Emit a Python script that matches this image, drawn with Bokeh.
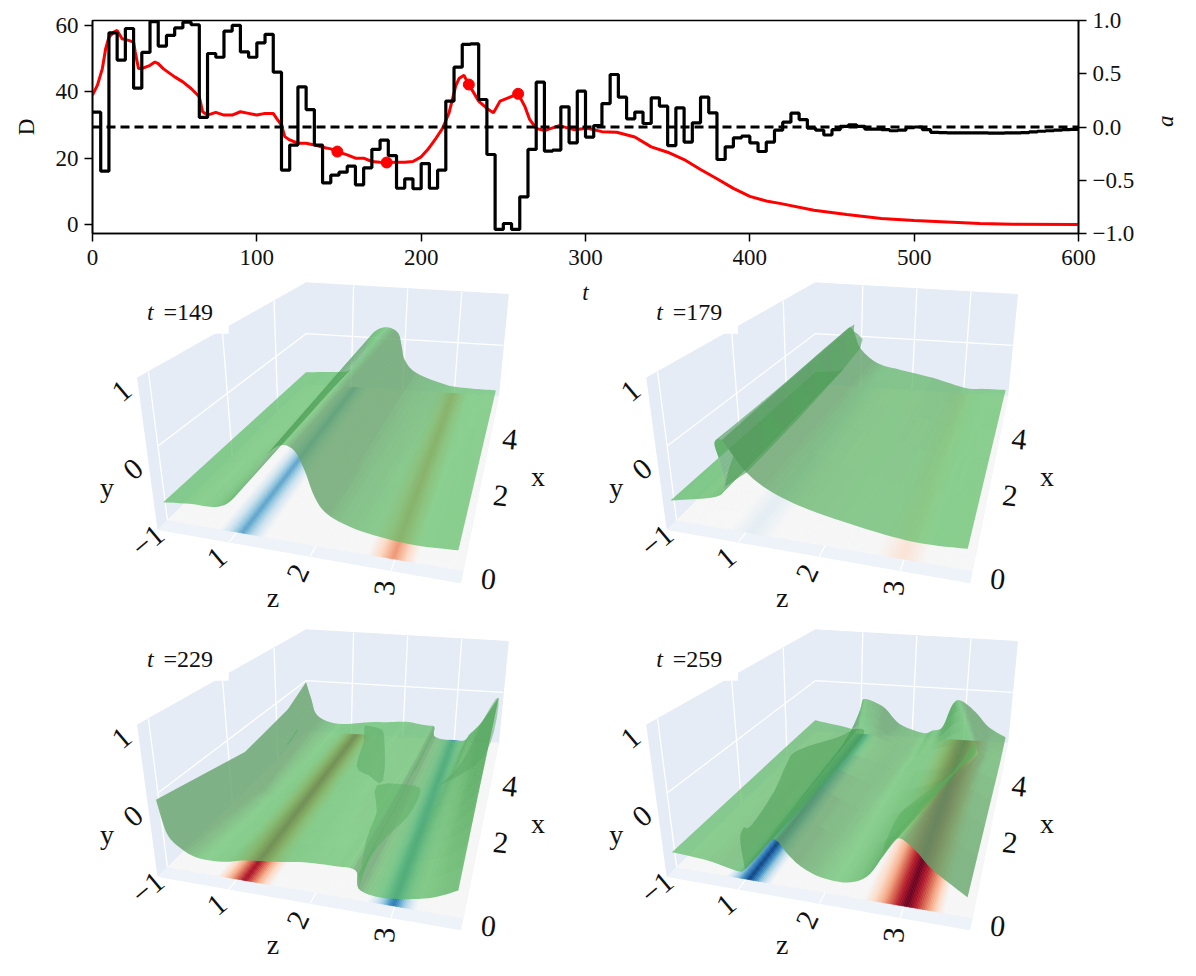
import math
import numpy as np
from bokeh.core.properties import value
from bokeh.embed import file_html
from bokeh.layouts import column
from bokeh.models import FixedTicker, LinearAxis, Range1d
from bokeh.palettes import RdBu11
from bokeh.plotting import figure
from bokeh.resources import INLINE

SERIF = "Liberation Serif"

# top chart: drag D (red) and action a (black, one value held for 5 time units)
d_t = [0, 3, 6, 8, 10, 13, 15, 18, 22, 25, 26, 28, 30, 35, 38, 40, 43, 50, 55, 60, 65, 67, 70, 75, 80, 85, 90, 95,
       100, 105, 110, 112, 115, 117, 120, 125, 130, 135, 140, 145, 149, 155, 160, 165, 170, 175, 179, 185, 190, 195,
       200, 204, 209, 213, 217, 221, 223, 226, 229, 235, 240, 244, 248, 253, 259, 263, 266, 270, 275, 284, 293, 301,
       310, 319, 330, 340, 350, 360, 370, 380, 390, 400, 410, 419, 439, 459, 480, 500, 520, 540, 560, 600]
d_values = [39, 42, 47, 53, 56.5, 58, 58.5, 56, 55.5, 55, 52, 47, 47, 48, 49, 48.5, 47, 44.5, 43, 41, 38.5, 34, 33,
            33.8, 33, 33, 34, 33.5, 33, 33.5, 33.5, 32, 30, 26.5, 25.5, 24.5, 24.5, 24, 23.3, 22.8, 22, 21, 20, 20,
            19, 18.8, 18.7, 18.8, 18.8, 19, 20.4, 22.6, 26, 29, 33.7, 41.7, 44, 45, 42.2, 37.2, 35, 33.7, 37.2, 38.2,
            39.4, 35.7, 31.7, 29, 28.3, 29.8, 28.6, 29, 28, 27.8, 26.4, 23.4, 21.8, 19.6, 16.6, 13.8, 10.9, 8.5, 7.1,
            6.3, 4.3, 3.0, 1.8, 1.2, 0.8, 0.3, 0.1, 0]
a_values = [.139, -.415, .884, .628, .925, .365, .70, .99, .76, .86, .93, .985, .96, .09, .69, .655, .90, .955, .705,
            .655, .79, .87, .515, -.405, -.17, .377, .164, -.17, -.525, -.452, -.424, -.368, -.543, -.383, -.21,
            -.124, -.268, -.575, -.487, -.58, -.343, -.575, -.405, .243, .562, .775, .78, .258, -.258, -.962, -.906,
            -.962, -.656, -.211, .421, -.227, -.217, .189, -.149, .336, -.095, .014, .22, .493, .28, .077, .14, .033,
            .274, .196, -.174, .18, -.142, .039, .28, .133, -.305, -.186, -.102, -.086, -.149, -.23, -.142, -.03,
            .045, .13, .07, -.01, -.03, -.075, -.025, .006, .02, .006, -.02, -.02, -.025, -.035, -.03, -.006, 0,
            -.025, -.05, -.052, -.055, -.055, -.055, -.055, -.055, -.058, -.058, -.055, -.055, -.052, -.045, -.04,
            -.035, -.03, -.025, -.022, -.02]
a_t = [i * 5 for i in range(len(a_values))]
snap_t = [149, 179, 229, 259]
snap_d = [22, 18.7, 42.2, 39.4]

# surface cross sections (z, y) read at a few depths x of each panel
x_149 = [0, 5.8]
z_149 = [[.23, .55, .87, 1.07, 1.28, 1.49, 1.67, 1.83, 1.95, 2.06, 2.21, 2.53, 2.93, 3.33, 3.79],
         [.12, .5, .91, 1.06, 1.22, 1.39, 1.64, 1.86, 1.94, 2.01, 2.24, 2.83, 3.21, 3.5, 3.80]]
y_149 = [[-.62, -.58, -.56, -.43, -.12, .22, .41, .37, .12, -.2, -.4, -.53, -.59, -.61, -.58],
         [-.76, -.73, -.69, -.53, -.31, .09, .22, .12, -.14, -.4, -.64, -.84, -.88, -.885, -.89]]

x_179 = [0, 5.8]
z_179 = [[.21, .76, .88, .86, .81, .90, 1.02, 1.16, 1.40, 1.79, 2.38, 2.97, 3.37, 3.79],
         [.12, .61, .73, .72, .70, .75, .85, .98, 1.30, 1.75, 2.39, 3.03, 3.4, 3.81]]
y_179 = [[-.6, -.45, -.29, 0, .27, .33, .14, -.05, -.23, -.38, -.5, -.58, -.59, -.56],
         [-.76, -.69, -.53, -.35, -.1, .15, .09, -.23, -.5, -.61, -.73, -.89, -.885, -.88]]

x_229 = [0, 1.99, 3.93, 5.8]
z_229 = [[.22, .29, .40, .62, .94, 1.22, 1.58, 1.93, 2.29, 2.55, 2.59, 2.81, 3.13, 3.49, 3.78],
         [.37, .5, .6, .8, 1.15, 1.46, 1.8, 2.1, 2.4, 2.57, 2.62, 2.98, 3.2, 3.5, 3.78],
         [.34, .42, .45, .76, 1.28, 1.6, 1.95, 2.2, 2.46, 2.59, 2.63, 3.08, 3.26, 3.5, 3.78],
         [.12, .22, .34, .73, 1.36, 1.7, 2.05, 2.3, 2.5, 2.6, 2.64, 3.15, 3.3, 3.5, 3.78]]
y_229 = [[.03, -.37, -.53, -.65, -.65, -.58, -.53, -.47, -.45, -.46, -.69, -.76, -.73, -.64, -.49],
         [-.146, -.55, -.7, -.75, -.7, -.65, -.6, -.58, -.6, -.61, -.83, -.88, -.79, -.62, -.3],
         [-.07, -.42, -.68, -.79, -.72, -.69, -.65, -.66, -.68, -.7, -.9, -.95, -.83, -.61, -.2],
         [-.03, -.35, -.67, -.81, -.74, -.72, -.69, -.72, -.74, -.76, -.96, -1.0, -.85, -.61, -.11]]

x_259 = [0, 4.35, 5.8]
z_259 = [[.22, .66, 1.0, 1.10, 1.27, 1.46, 1.63, 1.78, 2.02, 2.34, 2.58, 2.76, 2.92, 3.14, 3.35, 3.79],
         [.13, .57, .94, 1.0, 1.1, 1.3, 1.5, 1.75, 2.18, 2.39, 2.6, 3.0, 3.36, 3.45, 3.55, 3.81],
         [.12, .55, .93, .97, 1.01, 1.07, 1.43, 1.75, 2.21, 2.4, 2.58, 2.74, 2.89, 3.19, 3.47, 3.81]]
y_259 = [[-.66, -.69, -.76, -.72, -.51, -.25, -.42, -.55, -.65, -.66, -.53, -.23, .04, -.09, -.3, -.58],
         [-.76, -.83, -.88, -.78, -.73, -.72, -.7, -.74, -.87, -.85, -.82, -.8, -.73, -.75, -.8, -.86],
         [-.78, -.85, -.9, -.67, -.44, -.3, -.44, -.75, -.9, -.84, -.76, -.32, -.22, -.43, -.71, -.89]]

# overturned parts of the surface: (z, x, y, colour, alpha)
folds_149 = []
folds_179 = [
    ([.90, .75, .85, .98, 1.16, 1.02],
     [0, 5.8, 5.8, 5.8, 0, 0],
     [.33, .15, .09, -.23, -.05, .14], "#4f9f58", .6),
]
folds_229 = [
    ([2.59, 2.65, 2.61, 2.46, 2.97, 3.07, 3.0, 2.81, 2.67],
     [0, .05, .67, 1.27, 1.27, 1.06, .67, .38, .155],
     [-.69, -.07, -.07, -.03, .04, .04, -.07, -.21, -.36], "#5db066", .55),
    ([1.55, 1.83, 1.9, 2.26, 2.04, 1.69, 1.54],
     [4.35, 4.35, 4.35, 2.55, 2.55, 3.19, 4.35],
     [-.37, -.41, -.58, -.59, -.53, -.68, -.68], "#5aa864", .5),
    ([3.13, 3.4, 3.62, 3.78, 3.78, 3.67, 3.37],
     [2.55, 3.19, 4.8, 5.8, 5.08, 3.93, 3.19],
     [-.56, -.41, -.15, -.11, -.55, -.63, -.65], "#5aa864", .5),
]
folds_259 = [
    ([1.10, 1.04, 1.04, 1.10, 1.11, .95, .91, .86, .93, 1.27, 1.40, 1.46, 1.27],
     [0, .05, .155, .22, .86, 1.73, 2.26, 4.35, 5.8, 4.8, 1.73, 0, 0],
     [-.72, -.37, -.27, -.27, -.14, -.12, -.15, -.67, -.9, -.71, -.46, -.25, -.51], "#4f9f58", .55),
    ([2.77, 2.78, 2.74, 2.88, 3.11, 3.28, 3.36, 3.21, 3.06, 2.92],
     [0, 0, .86, 1.5, 3.19, 4.8, 4.35, 3.19, 1.5, 0],
     [-.19, -.05, -.19, -.26, -.63, -.71, -.73, -.55, -.26, .04], "#59b061", .55),
]

# forcing shown on the floor of each panel, z position and signed strength
floor_z_149 = [.12, .79, .93, 1.07, 1.21, 1.36, 2.66, 2.82, 2.98, 3.13, 3.27, 3.86]
floor_v_149 = [0, 0, -.25, -.55, -.25, 0, 0, .22, .45, .22, 0, 0]
floor_z_179 = [.12, .79, 1.07, 1.36, 2.66, 2.98, 3.27, 3.86]
floor_v_179 = [0, 0, -.1, 0, 0, .14, 0, 0]
floor_z_229 = [.12, .76, .92, 1.1, 1.28, 1.45, 2.66, 2.82, 2.98, 3.13, 3.27, 3.86]
floor_v_229 = [0, 0, .35, .85, .35, 0, 0, -.3, -.72, -.3, 0, 0]
floor_z_259 = [.12, .76, .9, 1.04, 1.18, 1.32, 2.5, 2.72, 2.9, 3.03, 3.16, 3.34, 3.5, 3.86]
floor_v_259 = [0, 0, -.4, -.95, -.4, 0, 0, .35, .75, 1.0, .75, .35, 0, 0]

labels = ["149", "179", "229", "259"]

Z_LO, Z_HI, X_MAX = .12, 3.86, 5.8
NEAR = {"ll": (205, 750), "lr": (1125, 910), "ul": (143, 295), "ur": (1177, 460)}
FAR = {"ll": (655, 315), "lr": (1240, 350), "ul": (655, 10), "ur": (1270, 45)}
ORIGINS = [(82, 3), (598, 3), (82, 350), (598, 350)]


def depth(x):
    return (169.4 * x / (1 + .159 * x)) / (169.4 * X_MAX / (1 + .159 * X_MAX))


def bilinear(c, s, t, k):
    low = c["ll"][k] + (c["lr"][k] - c["ll"][k]) * s
    high = c["ul"][k] + (c["ur"][k] - c["ul"][k]) * s
    return low + (high - low) * t


def project(z, x, y, origin):
    z, x, y = np.asarray(z, float), np.asarray(x, float), np.asarray(y, float)
    s = (z - Z_LO) / (Z_HI - Z_LO)
    t = (y + 1) / 2
    w = depth(x)
    u = bilinear(NEAR, s, t, 0) * (1 - w) + bilinear(FAR, s, t, 0) * w
    v = bilinear(NEAR, s, t, 1) * (1 - w) + bilinear(FAR, s, t, 1) * w
    return origin[0] + u / 3, origin[1] + v / 3


def smooth(values, n=6):
    # catmull-rom through the read values, only to round off the drawn outline
    p = np.asarray(values, float)
    p = np.concatenate([[p[0]], p, [p[-1]]])
    out = []
    for i in range(1, len(p) - 2):
        for f in np.linspace(0, 1, n, endpoint=False):
            out.append(.5 * (2 * p[i] + (p[i + 1] - p[i - 1]) * f
                             + (2 * p[i - 1] - 5 * p[i] + 4 * p[i + 1] - p[i + 2]) * f ** 2
                             + (3 * p[i] - p[i - 1] - 3 * p[i + 1] + p[i + 2]) * f ** 3))
    out.append(p[-2])
    return np.array(out)


def rdbu(v):
    # v from -1 (blue) to 1 (red)
    colors = RdBu11[::-1] if RdBu11[0].lower() == "#67001f" else RdBu11
    pos = (v + 1) / 2 * 10
    i = min(int(pos), 9)
    f = pos - i
    low, high = colors[i], colors[i + 1]
    rgb = [int(low[j:j + 2], 16) * (1 - f) + int(high[j:j + 2], 16) * f for j in (1, 3, 5)]
    return "#%02x%02x%02x" % tuple(int(c) for c in rgb)


top = figure(width=1180, height=294, x_range=(0, 600), y_range=(-2.7, 61.5), output_backend="svg",
             toolbar_location=None, min_border_left=92, min_border_right=102, min_border_top=20, min_border_bottom=2,
             x_axis_label="t", y_axis_label="D")
top.frame_width = 986
top.frame_height = 213
top.grid.visible = False
top.outline_line_color = "black"
top.outline_line_width = 1.6
top.extra_y_ranges = {"a": Range1d(-1, 1)}
right_axis = LinearAxis(y_range_name="a", axis_label="a")
top.add_layout(right_axis, "right")

top.xaxis.ticker = FixedTicker(ticks=[0, 100, 200, 300, 400, 500, 600])
top.yaxis[0].ticker = FixedTicker(ticks=[0, 20, 40, 60])
right_axis.ticker = FixedTicker(ticks=[-1, -.5, 0, .5, 1])
right_axis.major_label_overrides = {-1: "\u22121.0", -.5: "\u22120.5", 0: "0.0", .5: "0.5", 1: "1.0"}
for ax in [top.xaxis[0], top.yaxis[0], right_axis]:
    ax.major_tick_in = 0
    ax.major_tick_out = 8
    ax.minor_tick_in = 0
    ax.minor_tick_out = 0
    ax.major_tick_line_color = "black"
    ax.major_tick_line_width = 1.5
    ax.axis_line_color = "black"
    ax.axis_line_width = 1.6
    ax.major_label_text_font = SERIF
    ax.major_label_text_font_size = "23px"
    ax.major_label_text_color = "#111111"
    ax.axis_label_text_font = SERIF
    ax.axis_label_text_font_size = "23px"
    ax.axis_label_text_color = "#111111"
    ax.axis_label_text_font_style = "normal"
top.xaxis[0].axis_label_text_font_style = "italic"
right_axis.axis_label_text_font_style = "italic"
top.xaxis[0].axis_label_standoff = 12
top.yaxis[0].axis_label_standoff = 14
right_axis.axis_label_standoff = 28
right_axis.axis_label_orientation = math.pi / 2
top.yaxis[0].major_label_standoff = 6
right_axis.major_label_standoff = 6
top.xaxis[0].major_label_standoff = 8

top.line(d_t, d_values, line_color="#ff0000", line_width=3)
top.step(a_t, a_values, mode="after", y_range_name="a", line_color="black", line_width=3.2)
top.line([0, 600], [0, 0], y_range_name="a", line_color="black", line_width=3, line_dash="9 5")
top.scatter(snap_t, snap_d, size=11, color="#ff0000", marker="circle")

# the column lines this frame up with the top frame, so the range starts at the top frame's left edge
bottom = figure(width=1180, height=688, x_range=(84, 1070), y_range=(688, 0), output_backend="svg",
                toolbar_location=None, min_border=0, margin=(-31, 0, 0, 0),
                background_fill_color=None, border_fill_color=None, outline_line_color=None)
bottom.axis.visible = False
bottom.grid.visible = False

GREEN = "#63c06a"
panels = [
    (x_149, z_149, y_149, folds_149, floor_z_149, floor_v_149),
    (x_179, z_179, y_179, folds_179, floor_z_179, floor_v_179),
    (x_229, z_229, y_229, folds_229, floor_z_229, floor_v_229),
    (x_259, z_259, y_259, folds_259, floor_z_259, floor_v_259),
]

for label, origin, (xsec, zsec, ysec, folds, fz, fv) in zip(labels, ORIGINS, panels):
    # walls and floor
    xs, ys = project([Z_LO, Z_LO, Z_LO, Z_LO], [0, 0, X_MAX, X_MAX], [-1, 1, 1, -1], origin)
    bottom.patch(xs, ys, fill_color="#e5ecf6", line_color="#e5ecf6")
    xs, ys = project([Z_LO, Z_LO, Z_HI, Z_HI], [X_MAX] * 4, [-1, 1, 1, -1], origin)
    bottom.patch(xs, ys, fill_color="#e5ecf6", line_color="#e5ecf6")
    xs, ys = project([Z_LO, Z_HI, Z_HI, Z_LO], [0, 0, X_MAX, X_MAX], [-1] * 4, origin)
    bottom.patch(xs, ys, fill_color="#eef2f9", line_color="#eef2f9")

    # grid of the walls
    xs, ys = project([Z_LO, Z_LO, Z_HI], [.2, X_MAX, X_MAX], [0, 0, 0], origin)
    bottom.line(xs, ys, line_color="white", line_width=1.3)
    for xx in [.2, 2, 4]:
        xs, ys = project([Z_LO, Z_LO], [xx, xx], [-1, 1], origin)
        bottom.line(xs, ys, line_color="white", line_width=1.3)
    for zz in [1, 2, 3]:
        xs, ys = project([zz, zz], [X_MAX, X_MAX], [-1, 1], origin)
        bottom.line(xs, ys, line_color="white", line_width=1.3)
        xs, ys = project([zz, zz], [0, .2], [-1, -1], origin)
        bottom.line(xs, ys, line_color="white", line_width=1.3)

    # floor colours
    grid = np.linspace(Z_LO, Z_HI, 181)
    vals = np.interp(grid, fz, fv)
    strip_x, strip_y, strip_c = [], [], []
    for i in range(len(grid) - 1):
        xs, ys = project([grid[i], grid[i + 1], grid[i + 1], grid[i]], [.2, .2, X_MAX, X_MAX], [-1] * 4, origin)
        strip_x.append(list(xs))
        strip_y.append(list(ys))
        strip_c.append(rdbu(.5 * (vals[i] + vals[i + 1])))
    bottom.patches(strip_x, strip_y, fill_color=strip_c, line_color=strip_c, line_width=.6)

    # surface outline, then shade by slope on top of it
    zs = [smooth(a) for a in zsec]
    ys_ = [smooth(a) for a in ysec]
    fx, fy = project(zs[0], np.full(len(zs[0]), xsec[0]), ys_[0], origin)
    bx, by = project(zs[-1], np.full(len(zs[-1]), xsec[-1]), ys_[-1], origin)
    rx, ry = project([a[-1] for a in zs[1:-1]], xsec[1:-1], [a[-1] for a in ys_[1:-1]], origin)
    lx, ly = project([a[0] for a in zs[1:-1]], xsec[1:-1], [a[0] for a in ys_[1:-1]], origin)
    bottom.patch(list(fx) + list(rx) + list(bx[::-1]) + list(lx[::-1]),
                 list(fy) + list(ry) + list(by[::-1]) + list(ly[::-1]),
                 fill_color=GREEN, fill_alpha=.72, line_color=None)
    dark_x, dark_y, dark_c, dark_a = [], [], [], []
    for k in range(len(xsec) - 1):
        for a, b in zip(np.linspace(0, 1, 6)[:-1], np.linspace(0, 1, 6)[1:]):
            za, ya = zs[k] + (zs[k + 1] - zs[k]) * a, ys_[k] + (ys_[k + 1] - ys_[k]) * a
            zc, yc = zs[k] + (zs[k + 1] - zs[k]) * b, ys_[k] + (ys_[k + 1] - ys_[k]) * b
            xa = xsec[k] + (xsec[k + 1] - xsec[k]) * a
            xc = xsec[k] + (xsec[k + 1] - xsec[k]) * b
            for i in range(len(za) - 1):
                dz = .5 * (za[i + 1] - za[i] + zc[i + 1] - zc[i])
                dy = .5 * (ya[i + 1] - ya[i] + yc[i + 1] - yc[i])
                slope = dy / max(abs(dz), .01)
                xs, ys = project([za[i], za[i + 1], zc[i + 1], zc[i]], [xa, xa, xc, xc],
                                 [ya[i], ya[i + 1], yc[i + 1], yc[i]], origin)
                dark_x.append(list(xs))
                dark_y.append(list(ys))
                if dz < 0 or slope > 0:
                    dark_c.append("#4f9f58")
                    dark_a.append(float(min(.62, .45 * abs(slope))))
                else:
                    dark_c.append("#707a70")
                    dark_a.append(float(min(.33, .5 * abs(slope))))
    bottom.patches(dark_x, dark_y, fill_color=dark_c, fill_alpha=dark_a, line_color=None)

    # overturned parts
    for fold_z, fold_x, fold_y, fold_c, fold_a in folds:
        xs, ys = project(smooth(fold_z, 3), smooth(fold_x, 3), smooth(fold_y, 3), origin)
        bottom.patch(list(xs), list(ys), fill_color=fold_c, fill_alpha=fold_a, line_color=None)

    # white box behind the time label
    ox, oy = origin
    bottom.quad(left=ox + 150 / 3, right=ox + 420 / 3, top=oy + 30 / 3, bottom=oy + 163 / 3, fill_color="white",
                line_color=None)
    bottom.text([ox + 172 / 3], [oy + 97 / 3], text=["t"], text_font=value(SERIF), text_font_style="italic",
                text_font_size="24px", text_baseline="middle", text_color="#111111")
    bottom.text([ox + 222 / 3], [oy + 97 / 3], text=["=" + label], text_font=value(SERIF), text_font_size="24px",
                text_baseline="middle", text_color="#111111")

    # tick labels
    tick_x = [95, 130, 175, 385, 632, 895, 1210, 1247, 1275]
    tick_y = [335, 570, 785, 835, 880, 925, 900, 650, 480]
    tick_t = ["1", "0", "\u22121", "1", "2", "3", "0", "2", "4"]
    tick_a = [40, 40, 40, 40, 65, 85, -6, -6, -6]
    bottom.text([ox + a / 3 for a in tick_x], [oy + b / 3 for b in tick_y], text=tick_t,
                angle=[math.radians(a) for a in tick_a], text_font=value(SERIF), text_font_size="30px",
                text_align="center", text_baseline="middle", text_color="#111111")
    name_x = [50, 555, 1360]
    name_y = [625, 955, 590]
    bottom.text([ox + a / 3 for a in name_x], [oy + b / 3 for b in name_y], text=["y", "z", "x"],
                text_font=value(SERIF), text_font_size="28px", text_align="center", text_baseline="middle",
                text_color="#111111")

page = column(top, bottom, spacing=0)
open("out.html", "w").write(file_html(page, INLINE))
